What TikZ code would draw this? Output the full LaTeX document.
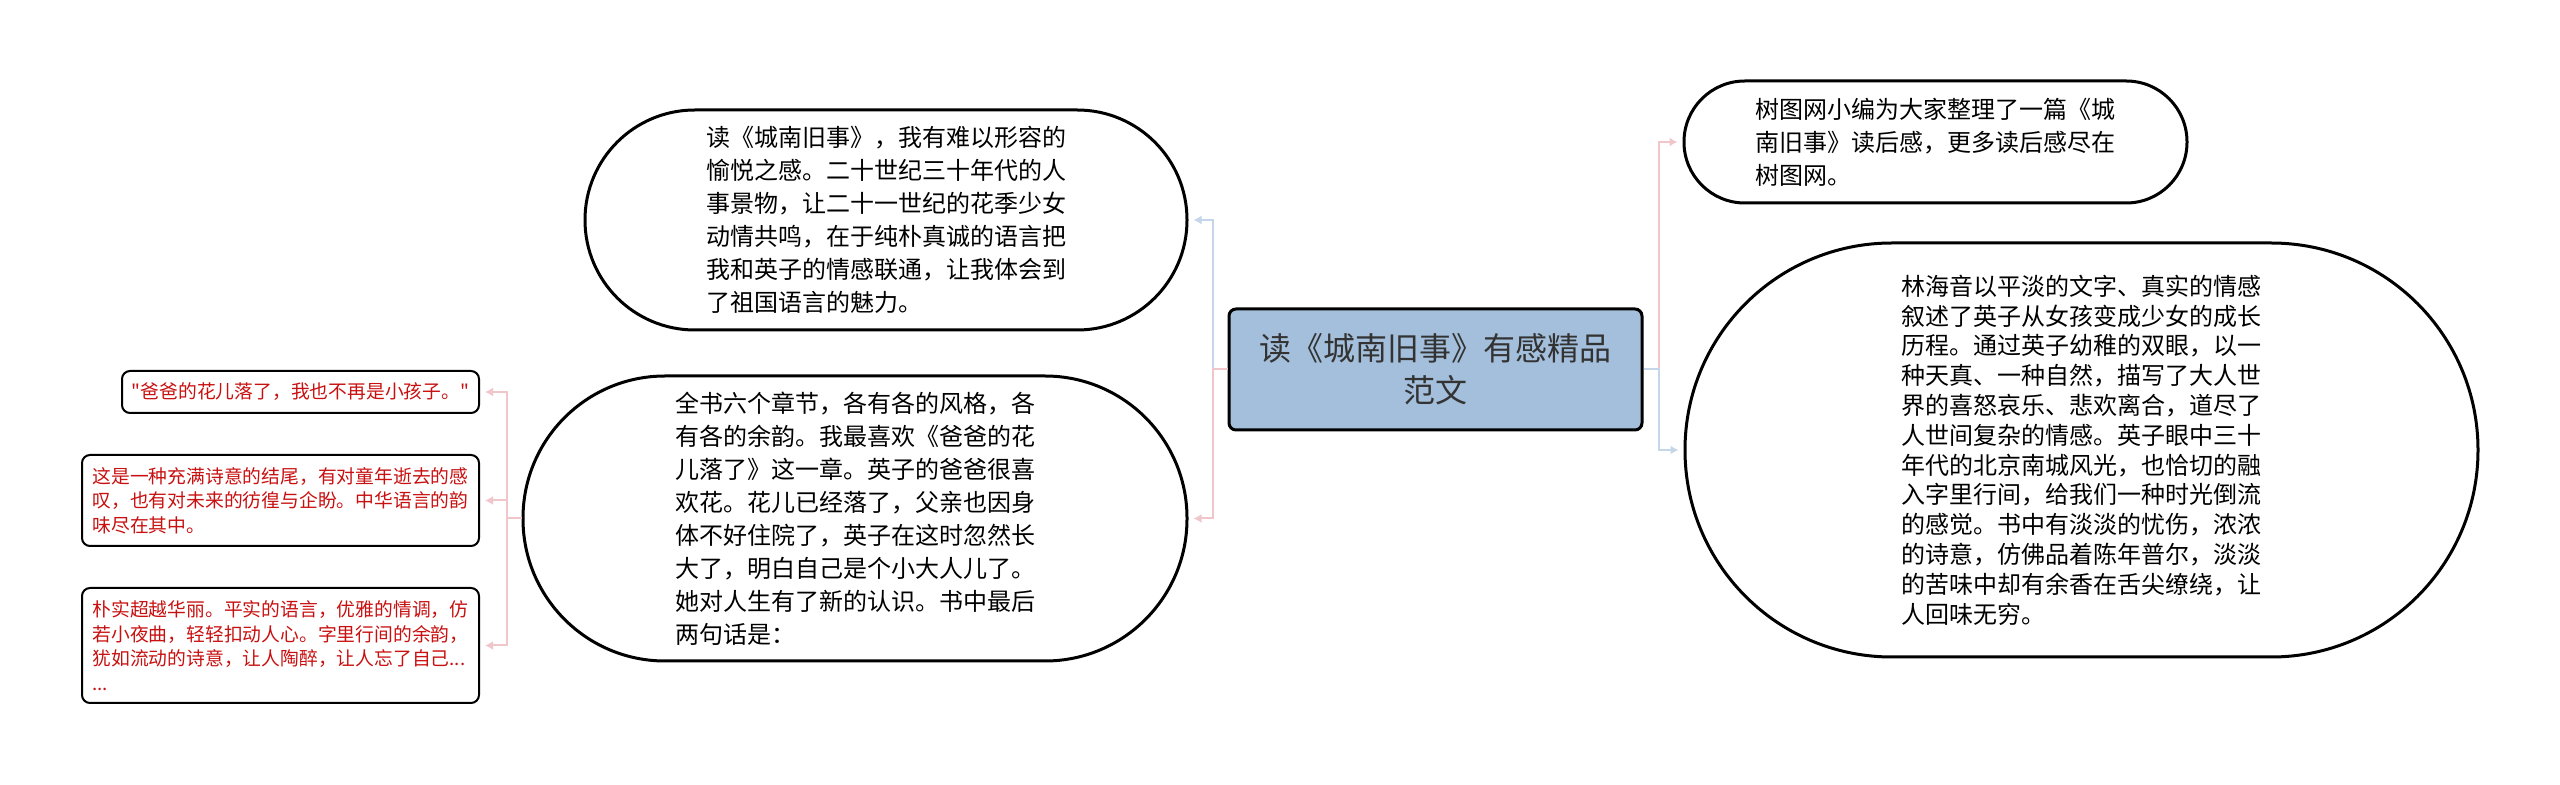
\documentclass[tikz,border=0pt]{standalone}
\usepackage{fontspec}
\newfontfamily\cjk{Noto Sans CJK SC}
\usetikzlibrary{arrows.meta}
\tikzset{>=latex}

\definecolor{titleblue}{RGB}{163,191,219}
\definecolor{titletext}{RGB}{51,51,51}
\definecolor{linkpink}{RGB}{241,198,203}
\definecolor{linkblue}{RGB}{197,214,234}
\definecolor{quotered}{RGB}{200,16,16}

\tikzset{
  bubble/.style={draw, line width=1.5pt, fill=white, align=left, font=\cjk\fontsize{12pt}{16.5pt}\selectfont},
  quotebox/.style={draw, line width=1pt, rounded corners=4pt, align=left, text=quotered, font=\cjk\fontsize{9.4pt}{12.25pt}\selectfont},
  pinklink/.style={linkpink, line width=1pt, -{Latex[length=4pt,width=4.5pt]}, shorten >=2.5pt},
  bluelink/.style={linkblue, line width=1pt, -{Latex[length=4pt,width=4.5pt]}, shorten >=2.5pt},
}

\begin{document}
\begin{tikzpicture}[x=0.5pt, y=-0.5pt]

\useasboundingbox (0,0) rectangle (2560,785);

% title
\node[draw, line width=1.5pt, fill=titleblue, rounded corners=3.5pt, text=titletext, align=center,
  minimum width=206.5pt, minimum height=60.5pt, font=\cjk\fontsize{16pt}{21pt}\selectfont]
  (T) at (1435.5,369.5) {读《城南旧事》有感精品\\范文};

% left branch
\node[bubble, minimum width=301pt, minimum height=110pt, rounded corners=54.9pt] (L1) at (886,220)
  {读《城南旧事》，我有难以形容的\\愉悦之感。二十世纪三十年代的人\\事景物，让二十一世纪的花季少女\\动情共鸣，在于纯朴真诚的语言把\\我和英子的情感联通，让我体会到\\了祖国语言的魅力。};

\node[bubble, minimum width=332pt, minimum height=142.5pt, rounded corners=71pt] (L2) at (855,518.5)
  {全书六个章节，各有各的风格，各\\有各的余韵。我最喜欢《爸爸的花\\儿落了》这一章。英子的爸爸很喜\\欢花。花儿已经落了，父亲也因身\\体不好住院了，英子在这时忽然长\\大了，明白自己是个小大人儿了。\\她对人生有了新的认识。书中最后\\两句话是：};

% right branch
\node[bubble, minimum width=251.5pt, minimum height=61pt, rounded corners=30.4pt] (R1) at (1935.5,142)
  {树图网小编为大家整理了一篇《城\\南旧事》读后感，更多读后感尽在\\树图网。};

\node[bubble, minimum width=396.5pt, minimum height=207pt, rounded corners=103.4pt,
  font=\cjk\fontsize{12pt}{14.9pt}\selectfont] (R2) at (2081.5,450)
  {林海音以平淡的文字、真实的情感\\叙述了英子从女孩变成少女的成长\\历程。通过英子幼稚的双眼，以一\\种天真、一种自然，描写了大人世\\界的喜怒哀乐、悲欢离合，道尽了\\人世间复杂的情感。英子眼中三十\\年代的北京南城风光，也恰切的融\\入字里行间，给我们一种时光倒流\\的感觉。书中有淡淡的忧伤，浓浓\\的诗意，仿佛品着陈年普尔，淡淡\\的苦味中却有余香在舌尖缭绕，让\\人回味无穷。};

% quotes
\node[quotebox, minimum width=178.5pt, minimum height=21pt] (Q1) at (300.5,392)
  {"爸爸的花儿落了，我也不再是小孩子。"};
\node[quotebox, minimum width=198.5pt, minimum height=45.5pt] (Q2) at (280.5,500.5)
  {这是一种充满诗意的结尾，有对童年逝去的感\\叹，也有对未来的彷徨与企盼。中华语言的韵\\味尽在其中。};
\node[quotebox, minimum width=198.5pt, minimum height=57.5pt] (Q3) at (280.5,645.5)
  {朴实超越华丽。平实的语言，优雅的情调，仿\\若小夜曲，轻轻扣动人心。字里行间的余韵，\\犹如流动的诗意，让人陶醉，让人忘了自己...\\...};

\draw[bluelink] (T.west) -- ++(-15,0) |- (L1.east);
\draw[pinklink] (T.west) -- ++(-15,0) |- (L2.east);
\draw[pinklink] (T.east) -- ++(15,0) |- (R1.west);
\draw[bluelink] (T.east) -- ++(15,0) |- (R2.west);

\foreach \q in {Q1,Q2,Q3}
  \draw[pinklink] (L2.west) -- ++(-15,0) |- (\q.east);

\end{tikzpicture}
\end{document}
